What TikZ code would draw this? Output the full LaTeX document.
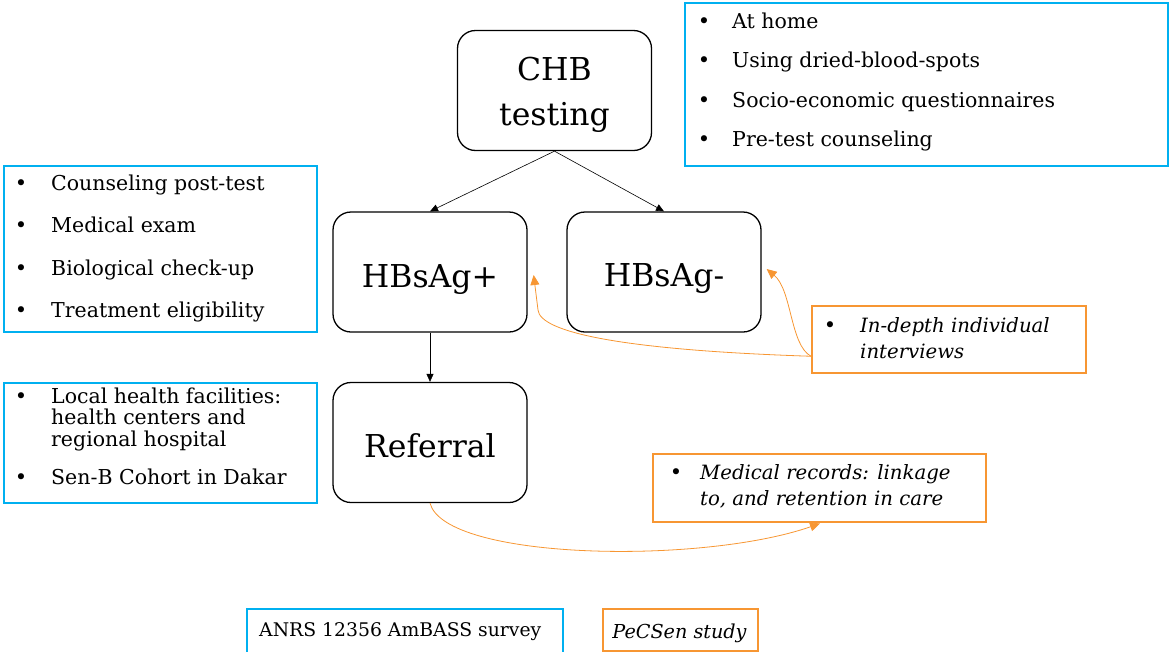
\documentclass[tikz,border=0pt]{standalone}
\usepackage{fontspec}
\setmainfont{DejaVu Serif}
\usetikzlibrary{arrows.meta,calc}
\definecolor{cblue}{RGB}{0,176,240}
\definecolor{corange}{RGB}{247,150,50}
\begin{document}
\begin{tikzpicture}[x=1pt,y=-1pt,
  stage/.style={draw=black,line width=1.3pt,rounded corners=18pt,
    minimum width=194pt,minimum height=120pt,inner sep=0pt},
  stagetext/.style={anchor=base,inner sep=0pt,font=\fontsize{31.5}{44}\selectfont},
  bluebox/.style={draw=cblue,line width=1.5pt,anchor=north west,inner sep=0pt},
  orangebox/.style={draw=corange,line width=1.5pt,anchor=north west,inner sep=0pt},
  item/.style={anchor=base west,inner sep=0pt,font=\fontsize{20.5}{21}\selectfont},
  itemit/.style={item,font=\fontsize{19.7}{26}\selectfont\itshape},
  bul/.style={anchor=base,inner sep=0pt,font=\fontsize{21}{21}\selectfont},
  flow/.style={-{Triangle[length=8pt,width=7pt]},line width=0.6pt,black},
  link/.style={-{Triangle[length=10pt,width=9pt]},line width=0.8pt,corange}]
\useasboundingbox (0,0) rectangle (1169,651);

% main stages
\node[stage] (chb) at (554.5,90.5) {};
\node[stagetext] (chbA) at (554.5,80) {CHB};
\node[stagetext] (chbB) at (554.5,125) {testing};
\node[stage] (hbp) at (430,272) {};
\node[stagetext] (hbpT) at (430,287) {HBsAg+};
\node[stage] (hbn) at (664,272) {};
\node[stagetext] (hbnT) at (664,286) {HBsAg-};
\node[stage] (ref) at (430,442.5) {};
\node[stagetext] (refT) at (430,457) {Referral};

\draw[flow] (chb.south) -- (hbp.north);
\draw[flow] (chb.south) -- (hbn.north);
\draw[flow] (hbp.south) -- (ref.north);

% testing details
\node[bluebox,minimum width=483pt,minimum height=163pt] (tbox) at (684,2) {};
\foreach \y/\t [count=\i] in {28/At home,67/Using dried-blood-spots,107/Socio-economic questionnaires,146/Pre-test counseling}{
  \node[bul] (tb\i) at (704,\y) {\textbullet};
  \node[item] (tt\i) at (732,\y) {\t};
}

% HBsAg+ follow-up
\node[bluebox,minimum width=313pt,minimum height=166pt] (pbox) at (3,165) {};
\foreach \y/\t [count=\i] in {190/Counseling post-test,232/Medical exam,275/Biological check-up,317/Treatment eligibility}{
  \node[bul] (pb\i) at (21,\y) {\textbullet};
  \node[item] (pt\i) at (51,\y) {\t};
}

% referral sites
\node[bluebox,minimum width=313pt,minimum height=120pt] (rbox) at (3,382) {};
\node[bul] (rb1) at (21,403) {\textbullet};
\node[item] (rt1) at (51,403) {Local health facilities:};
\node[item] (rt2) at (51,424.5) {health centers and};
\node[item] (rt3) at (51,446) {regional hospital};
\node[bul] (rb2) at (21,484) {\textbullet};
\node[item] (rt4) at (51,484) {Sen-B Cohort in Dakar};

% interviews
\node[orangebox,minimum width=274pt,minimum height=67pt] (ibox) at (811,305) {};
\node[bul] (ib1) at (830,332) {\textbullet};
\node[itemit] (it1) at (860,332) {In-depth individual};
\node[itemit] (it2) at (860,358) {interviews};

% medical records
\node[orangebox,minimum width=333pt,minimum height=68pt] (mbox) at (652,453) {};
\node[bul] (mb1) at (676,479) {\textbullet};
\node[itemit] (mt1) at (700,479) {Medical records: linkage};
\node[itemit] (mt2) at (700,505) {to, and retention in care};

% study legend
\node[bluebox,minimum width=316pt,minimum height=44pt] (lgA) at (246,608) {};
\node[item,font=\fontsize{18.8}{21}\selectfont] (lgAt) at (259,636) {ANRS 12356 AmBASS survey};
\node[orangebox,minimum width=155pt,minimum height=42pt] (lgB) at (602,608) {};
\node[itemit,anchor=base,font=\fontsize{19.2}{21}\selectfont\itshape] (lgBt) at (679.5,638) {PeCSen study};

% data collection links
\coordinate (isrc) at ($(ibox.west)+(0,17)$);
\coordinate (pdst) at ($(hbp.east)+(6,3)$);
\coordinate (ndst) at ($(hbn.east)+(5,-3)$);
\coordinate (mdst) at ($(mbox.south west)+(168,1)$);
\draw[link] (isrc) .. controls (620,350) and (540,332) .. (538,310) -- (pdst);
\draw[link] (isrc) .. controls (790,345) and (792,290) .. (ndst);
\draw[link] (ref.south) .. controls (445,560) and (700,565) .. (mdst);
\end{tikzpicture}
\end{document}
